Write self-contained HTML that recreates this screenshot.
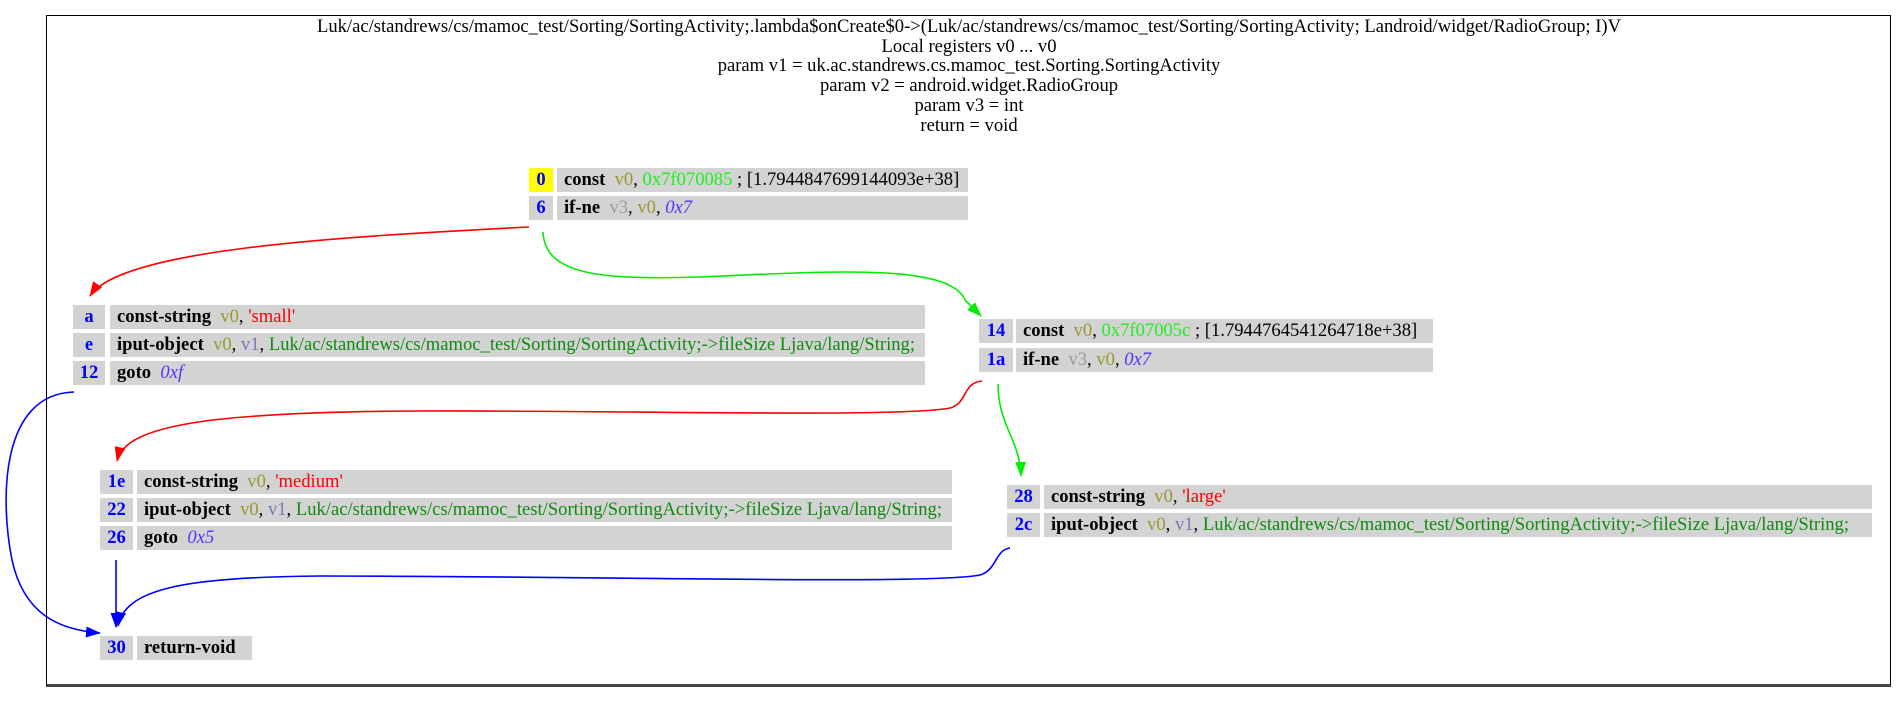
<!DOCTYPE html>
<html><head><meta charset="utf-8"><style>
body{margin:0;width:1899px;height:705px;background:#fff;position:relative;overflow:hidden;font-family:"Liberation Serif",serif;}
.frame{position:absolute;left:46px;top:15px;width:1845px;height:672px;border:1.5px solid #000;border-bottom:3px solid #444;box-sizing:border-box;}
.title{position:absolute;left:46px;width:1846px;top:17px;text-align:center;font-size:18.6px;line-height:19.7px;color:#000;}
.c{position:absolute;height:24px;line-height:24px;background:#d3d3d3;font-size:18.6px;white-space:nowrap;overflow:hidden;}
.i{text-align:center;color:#0000ff;font-weight:bold;}
.m{padding-left:7px;box-sizing:border-box;}
b{color:#000;}
.r0{color:#999933}.r1{color:#7777bb}.r3{color:#999}.lit{color:#22ee22}.str{color:#ff0000}.fld{color:#108a10}.off{color:#5533ff;font-style:italic}
svg{position:absolute;left:0;top:0}
</style></head><body>
<div class="frame"></div>
<div class="title">Luk/ac/standrews/cs/mamoc_test/Sorting/SortingActivity;.lambda$onCreate$0-&gt;(Luk/ac/standrews/cs/mamoc_test/Sorting/SortingActivity; Landroid/widget/RadioGroup; I)V<br>Local registers v0 ... v0<br>param v1 = uk.ac.standrews.cs.mamoc_test.Sorting.SortingActivity<br>param v2 = android.widget.RadioGroup<br>param v3 = int<br>return = void</div>

<div class="c i" style="left:529px;top:168px;width:24px;background:#ffff00">0</div>
<div class="c m" style="left:557px;top:168px;width:411px"><b>const</b>&nbsp; <span class="r0">v0</span>, <span class="lit">0x7f070085</span> ; [1.7944847699144093e+38]</div>
<div class="c i" style="left:529px;top:196px;width:24px">6</div>
<div class="c m" style="left:557px;top:196px;width:411px"><b>if-ne</b>&nbsp; <span class="r3">v3</span>, <span class="r0">v0</span>, <span class="off">0x7</span></div>

<div class="c i" style="left:73px;top:305px;width:32px">a</div>
<div class="c m" style="left:110px;top:305px;width:815px"><b>const-string</b>&nbsp; <span class="r0">v0</span>, <span class="str">'small'</span></div>
<div class="c i" style="left:73px;top:333px;width:32px">e</div>
<div class="c m" style="left:110px;top:333px;width:815px"><b>iput-object</b>&nbsp; <span class="r0">v0</span>, <span class="r1">v1</span>, <span class="fld">Luk/ac/standrews/cs/mamoc_test/Sorting/SortingActivity;-&gt;fileSize Ljava/lang/String;</span></div>
<div class="c i" style="left:73px;top:361px;width:32px">12</div>
<div class="c m" style="left:110px;top:361px;width:815px"><b>goto</b>&nbsp; <span class="off">0xf</span></div>

<div class="c i" style="left:979px;top:319px;width:34px">14</div>
<div class="c m" style="left:1016px;top:319px;width:417px"><b>const</b>&nbsp; <span class="r0">v0</span>, <span class="lit">0x7f07005c</span> ; [1.7944764541264718e+38]</div>
<div class="c i" style="left:979px;top:348px;width:34px">1a</div>
<div class="c m" style="left:1016px;top:348px;width:417px"><b>if-ne</b>&nbsp; <span class="r3">v3</span>, <span class="r0">v0</span>, <span class="off">0x7</span></div>

<div class="c i" style="left:100px;top:470px;width:33px">1e</div>
<div class="c m" style="left:137px;top:470px;width:815px"><b>const-string</b>&nbsp; <span class="r0">v0</span>, <span class="str">'medium'</span></div>
<div class="c i" style="left:100px;top:498px;width:33px">22</div>
<div class="c m" style="left:137px;top:498px;width:815px"><b>iput-object</b>&nbsp; <span class="r0">v0</span>, <span class="r1">v1</span>, <span class="fld">Luk/ac/standrews/cs/mamoc_test/Sorting/SortingActivity;-&gt;fileSize Ljava/lang/String;</span></div>
<div class="c i" style="left:100px;top:526px;width:33px">26</div>
<div class="c m" style="left:137px;top:526px;width:815px"><b>goto</b>&nbsp; <span class="off">0x5</span></div>

<div class="c i" style="left:1007px;top:485px;width:33px">28</div>
<div class="c m" style="left:1044px;top:485px;width:828px"><b>const-string</b>&nbsp; <span class="r0">v0</span>, <span class="str">'large'</span></div>
<div class="c i" style="left:1007px;top:513px;width:33px">2c</div>
<div class="c m" style="left:1044px;top:513px;width:828px"><b>iput-object</b>&nbsp; <span class="r0">v0</span>, <span class="r1">v1</span>, <span class="fld">Luk/ac/standrews/cs/mamoc_test/Sorting/SortingActivity;-&gt;fileSize Ljava/lang/String;</span></div>

<div class="c i" style="left:100px;top:636px;width:33px">30</div>
<div class="c m" style="left:137px;top:636px;width:115px"><b>return-void</b></div>

<svg width="1899" height="705" viewBox="0 0 1899 705">
<defs>
<marker id="ar" markerWidth="15" markerHeight="11" refX="14" refY="5.5" orient="auto" markerUnits="userSpaceOnUse"><path d="M0,0 L15,5.5 L0,11 z" fill="#ff0000"/></marker>
<marker id="ag" markerWidth="15" markerHeight="11" refX="14" refY="5.5" orient="auto" markerUnits="userSpaceOnUse"><path d="M0,0 L15,5.5 L0,11 z" fill="#00ee00"/></marker>
<marker id="ab" markerWidth="15" markerHeight="11" refX="14" refY="5.5" orient="auto" markerUnits="userSpaceOnUse"><path d="M0,0 L15,5.5 L0,11 z" fill="#0000ff"/></marker>
</defs>
<g fill="none" stroke-width="1.6">
<path d="M529,227 C330,237 120,250 90,296" stroke="#ff0000" marker-end="url(#ar)"/>
<path d="M543,232 C545,275 600,280 700,277 C820,272 950,262 965,300 L981,316" stroke="#00ee00" marker-end="url(#ag)"/>
<path d="M982,381 C962,383 968,403 950,408 C900,418 600,410 420,411 C210,412 125,425 117,461" stroke="#ff0000" marker-end="url(#ar)"/>
<path d="M998,384 C998,425 1020,440 1021,476" stroke="#00ee00" marker-end="url(#ag)"/>
<path d="M74,392 C0,394 0,500 12,560 C24,615 60,630 100,633" stroke="#0000ff" marker-end="url(#ab)"/>
<path d="M116,560 L116,627" stroke="#0000ff" marker-end="url(#ab)"/>
<path d="M1010,548 C995,550 997,570 980,575 C930,585 600,576 320,576 C180,577 125,590 118,626" stroke="#0000ff" marker-end="url(#ab)"/>
</g>
</svg>
</body></html>
